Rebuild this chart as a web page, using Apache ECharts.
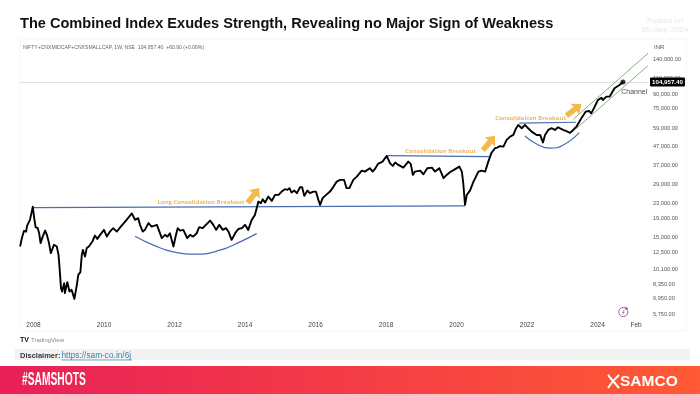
<!DOCTYPE html>
<html>
<head>
<meta charset="utf-8">
<style>html,body{margin:0;padding:0;background:#fff}#c{width:700px;height:394px}</style>
<script src="https://cdn.jsdelivr.net/npm/echarts@6/dist/echarts.min.js"></script>
</head>
<body>
<div id="c"></div>
<script>
const titleText = 'The Combined Index Exudes Strength, Revealing no Major Sign of Weakness';
const headerText = 'NIFTY+CNXMIDCAP+CNXSMALLCAP, 1W, NSE  104,957.40  +60.90 (+0.06%)';
const lastValue = 104957.4;

const xTicks = [2008,2010,2012,2014,2016,2018,2020,2022,2024,2025.09];
const xTickLabels = ['2008','2010','2012','2014','2016','2018','2020','2022','2024','Feb'];
const yTicks = [140000,110000,90000,75000,59000,47000,37000,29000,23000,19000,15000,12500,10100,8350,6950,5750];

const indexYears = [2007.62,2007.67,2007.73,2007.79,2007.82,2007.90,2007.98,2008.02,2008.06,2008.12,2008.16,2008.20,2008.26,2008.33,2008.38,2008.44,2008.49,2008.53,2008.58,2008.66,2008.71,2008.74,2008.78,2008.81,2008.87,2008.89,2008.96,2009.02,2009.08,2009.16,2009.23,2009.27,2009.33,2009.37,2009.40,2009.46,2009.51,2009.57,2009.67,2009.74,2009.81,2009.89,2010.00,2010.08,2010.17,2010.26,2010.36,2010.50,2010.64,2010.79,2010.88,2010.97,2011.02,2011.10,2011.16,2011.26,2011.35,2011.40,2011.50,2011.57,2011.64,2011.73,2011.80,2011.87,2011.97,2012.03,2012.09,2012.16,2012.25,2012.36,2012.44,2012.53,2012.63,2012.70,2012.80,2012.89,2013.01,2013.10,2013.18,2013.27,2013.37,2013.46,2013.53,2013.62,2013.72,2013.81,2013.91,2014.00,2014.09,2014.19,2014.28,2014.33,2014.38,2014.43,2014.45,2014.50,2014.57,2014.66,2014.76,2014.85,2014.95,2015.04,2015.13,2015.20,2015.26,2015.32,2015.40,2015.47,2015.56,2015.62,2015.68,2015.77,2015.84,2015.94,2016.01,2016.08,2016.13,2016.20,2016.30,2016.41,2016.51,2016.60,2016.70,2016.81,2016.88,2016.96,2017.07,2017.17,2017.31,2017.40,2017.54,2017.62,2017.68,2017.77,2017.90,2018.02,2018.11,2018.19,2018.26,2018.35,2018.49,2018.63,2018.70,2018.76,2018.82,2018.97,2019.06,2019.17,2019.30,2019.39,2019.51,2019.63,2019.72,2019.82,2019.96,2020.08,2020.15,2020.19,2020.24,2020.29,2020.38,2020.48,2020.62,2020.71,2020.81,2020.90,2020.99,2021.09,2021.15,2021.23,2021.33,2021.42,2021.52,2021.61,2021.69,2021.75,2021.85,2021.94,2022.03,2022.13,2022.18,2022.27,2022.37,2022.45,2022.51,2022.60,2022.70,2022.79,2022.88,2023.02,2023.10,2023.22,2023.40,2023.54,2023.66,2023.76,2023.82,2023.92,2024.01,2024.11,2024.15,2024.25,2024.34,2024.48,2024.62,2024.72];
const indexValues = [13380,14860,16280,16130,17390,18680,22000,19080,17050,16840,15810,13960,15150,16340,15480,13960,12310,12310,13670,13380,12050,10210,7950,7620,8460,7470,8570,7620,7780,6950,8280,9380,9710,12050,12830,11800,13120,13380,14240,15350,14720,15480,16480,15150,16130,16840,16130,17390,18680,20260,18680,19080,17550,16130,16480,17930,17180,17180,17550,16130,14860,15480,15150,15810,13380,15150,16840,16340,16480,14860,15480,15150,15810,17050,16840,17550,18520,17550,16480,17550,16480,16840,16130,14550,15810,16670,16840,17550,16480,18680,19880,20310,23490,23990,23020,24170,23200,25000,23690,25540,25540,26620,27430,27190,27780,26300,26950,26080,28120,28120,25220,26950,26080,26620,26620,23990,22530,24510,25540,26620,28330,30150,30810,30810,27780,27780,30810,32110,34620,34170,35670,34190,35250,37650,38730,41590,38000,36700,38280,37170,35940,38730,37650,32800,34190,34620,33050,35670,35940,34190,35670,31470,32800,34000,35250,36400,34190,29560,22530,25540,26950,30150,34190,34620,34190,38730,43190,45820,46200,47000,46730,50820,52960,54090,58840,61300,58840,61300,58840,56360,57590,54090,54090,49240,54090,57590,58840,57590,59590,57590,56870,55460,60010,66670,72390,73040,70880,77080,83820,86060,83820,87350,87350,97050,101120,104957.4];

const longLevelYears = [2007.98,2020.24];
const longLevelValues = [21790,22250];
const midLevelYears = [2018.03,2020.93];
const midLevelValues = [41710,41190];
const recentLevelYears = [2021.78,2023.39];
const recentLevelValues = [62640,63420];

const bigArcYears = [2010.88,2011.40,2011.96,2012.63,2013.29,2013.86,2014.33];
const bigArcValues = [15230,13620,12510,12160,12780,14190,15730];
const smallArcYears = [2021.94,2022.27,2022.65,2023.03,2023.48];
const smallArcValues = [53420,48340,45820,47740,55680];

const channelUpperYears = [2023.31,2025.43];
const channelUpperValues = [65830,150350];
const channelLowerYears = [2023.26,2025.43];
const channelLowerValues = [55680,128740];

const arrowYears = [2014.24,2020.92,2023.33];
const arrowValues = [25380,48950,73960];
const arrowAngles = [-38,-40,-52];

const noteYears = [2012.75,2019.55,2022.10];
const noteValues = [23250,44280,66910];
const noteTexts = ['Long Consolidation Breakout','Consolidation Breakout','Consolidation Breakout'];

const zip = (a, b) => a.map((v, i) => [v, b[i]]);
const blue = '#4a6db0', green = '#86b07c', orange = '#f0a81c';
const uiFont = '"Liberation Sans", Arial, sans-serif';
const levelLine = (xs, ys, color, width, smooth) => ({
  type: 'line', data: zip(xs, ys), symbol: 'none', smooth: !!smooth, silent: true,
  lineStyle: { color: color, width: width }, z: 3
});
const arrowPath = 'path://M5 0 L10 8 L7 7.4 L7 18 L3 18 L3 7.4 L0 8 Z';

const chart = echarts.init(document.getElementById('c'), null, { renderer: 'canvas' });
chart.setOption({
  animation: false,
  backgroundColor: '#fff',
  grid: { left: 20, right: 52, top: 39, bottom: 75 },
  xAxis: {
    type: 'value', min: 2007.617, max: 2025.43, splitLine: { show: false },
    axisLine: { show: false }, axisTick: { show: false },
    axisLabel: {
      customValues: xTicks, color: '#444', fontSize: 6.5, margin: 3, fontFamily: uiFont,
      formatter: v => xTickLabels[xTicks.indexOf(v)]
    }
  },
  yAxis: {
    type: 'log', position: 'right', min: 5400, max: 179800, splitLine: { show: false },
    axisLine: { show: false }, axisTick: { show: false },
    axisLabel: {
      customValues: yTicks, color: '#555', fontSize: 5.6, margin: 5, fontFamily: uiFont,
      formatter: v => Number(v).toLocaleString('en-US', { minimumFractionDigits: 2, maximumFractionDigits: 2 })
    }
  },
  series: [
    levelLine(longLevelYears, longLevelValues, blue, 1.3),
    levelLine(midLevelYears, midLevelValues, blue, 1.2),
    levelLine(recentLevelYears, recentLevelValues, blue, 1.2),
    levelLine(bigArcYears, bigArcValues, blue, 1.2, true),
    levelLine(smallArcYears, smallArcValues, blue, 1.2, true),
    levelLine(channelUpperYears, channelUpperValues, green, 1),
    levelLine(channelLowerYears, channelLowerValues, green, 1),
    {
      type: 'line', data: zip(indexYears, indexValues), symbol: 'none', z: 4, silent: true,
      lineStyle: { color: '#000', width: 1.9, join: 'round' },
      markLine: {
        silent: true, symbol: 'none', animation: false, z: 1,
        lineStyle: { color: '#e0e0e0', width: 1, type: 'solid' },
        label: {
          position: 'end', formatter: '104,957.40', color: '#fff', backgroundColor: '#000',
          fontSize: 6.2, fontWeight: 'bold', padding: [2, 2, 1, 2], distance: 2, borderRadius: 1, fontFamily: uiFont
        },
        data: [{ yAxis: lastValue }]
      }
    },
    {
      type: 'scatter', data: zip(indexYears.slice(-1), indexValues.slice(-1)), symbolSize: 5, z: 5, silent: true,
      itemStyle: { color: '#000' }
    },
    {
      type: 'scatter', data: zip(arrowYears, arrowValues), symbol: arrowPath, symbolSize: [14, 19], z: 5, silent: true,
      symbolRotate: (v, p) => arrowAngles[p.dataIndex], itemStyle: { color: orange }
    },
    {
      type: 'scatter', data: zip(noteYears, noteValues), symbolSize: 1, z: 6, silent: true, itemStyle: { color: 'transparent' },
      label: {
        show: true, position: 'inside', color: '#e6a63a', fontSize: 6, fontWeight: 'bold', fontFamily: '"Open Sans", sans-serif',
        formatter: p => noteTexts[p.dataIndex]
      }
    },
    {
      type: 'scatter', data: [[2025.04, 92640]], symbolSize: 1, z: 6, silent: true, itemStyle: { color: 'transparent' },
      label: { show: true, position: 'inside', color: '#222', fontSize: 7, fontFamily: uiFont, formatter: 'Channel' }
    }
  ],
  graphic: [
    { type: 'rect', silent: true, z: -1, shape: { x: 20, y: 39, width: 666, height: 292 }, style: { fill: 'none', stroke: '#f6f6f6', lineWidth: 1 } },
    { type: 'rect', silent: true, shape: { x: 15, y: 349, width: 675, height: 11 }, style: { fill: '#f2f2f2' } },
    {
      type: 'rect', silent: true, shape: { x: 0, y: 366, width: 700, height: 28 },
      style: { fill: new echarts.graphic.LinearGradient(0, 0, 1, 0, [{ offset: 0, color: '#e81f58' }, { offset: 1, color: '#ff5a34' }]) }
    },
    { type: 'text', silent: true, x: 20, y: 16, scaleX: 0.94, style: { text: titleText, fill: '#111', font: 'bold 15.5px ' + uiFont } },
    { type: 'text', silent: true, x: 23, y: 45, style: { text: headerText, fill: '#666', font: '5.1px ' + uiFont } },
    { type: 'text', silent: true, x: 665, y: 17, style: { text: 'Posted on', fill: '#e6e6e6', align: 'center', font: '8px ' + uiFont } },
    { type: 'text', silent: true, x: 665, y: 26, style: { text: '20-Sep-2024', fill: '#e6e6e6', align: 'center', font: '8px ' + uiFont } },
    { type: 'text', silent: true, x: 654, y: 44.5, style: { text: 'INR', fill: '#555', font: '6px ' + uiFont } },
    { type: 'text', silent: true, x: 20, y: 337, style: { text: 'TV', fill: '#111', font: 'bold 7px ' + uiFont } },
    { type: 'text', silent: true, x: 31, y: 337, style: { text: 'TradingView', fill: '#888', font: '6px ' + uiFont } },
    { type: 'text', silent: true, x: 20, y: 352, style: { text: 'Disclaimer:', fill: '#333', font: 'bold 7.5px ' + uiFont } },
    { type: 'text', silent: true, x: 61.5, y: 351.5, style: { text: 'https://sam-co.in/6j', fill: '#3b82a8', font: '8.3px ' + uiFont } },
    { type: 'line', silent: true, shape: { x1: 61.5, y1: 360, x2: 132, y2: 360 }, style: { stroke: '#3b82a8', lineWidth: 0.7 } },
    { type: 'text', silent: true, x: 22, y: 370.5, scaleX: 0.54, style: { text: '#SAMSHOTS', fill: '#fff', font: 'bold 19px ' + uiFont } },
    { type: 'text', silent: true, x: 620, y: 373.5, style: { text: 'SAMCO', fill: '#fff', font: 'bold 15.5px ' + uiFont } },
    { type: 'polyline', silent: true, shape: { points: [[608, 375], [613, 381], [608, 388]] }, style: { stroke: '#fff', fill: 'none', lineWidth: 2 } },
    { type: 'polyline', silent: true, shape: { points: [[619, 375], [613, 381], [619, 388]] }, style: { stroke: '#fff', fill: 'none', lineWidth: 2 } },
    { type: 'circle', silent: true, shape: { cx: 623.3, cy: 312, r: 4.6 }, style: { fill: '#fff', stroke: '#a05fb5', lineWidth: 1 } },
    { type: 'polyline', silent: true, shape: { points: [[624.5, 309.5], [622.5, 312.5], [624, 312.5], [622.5, 314.5]] }, style: { stroke: '#a05fb5', fill: 'none', lineWidth: 0.8 } },
    { type: 'circle', silent: true, shape: { cx: 626.5, cy: 308.5, r: 1.2 }, style: { fill: '#d8344f' } }
  ]
});
</script>
</body>
</html>
